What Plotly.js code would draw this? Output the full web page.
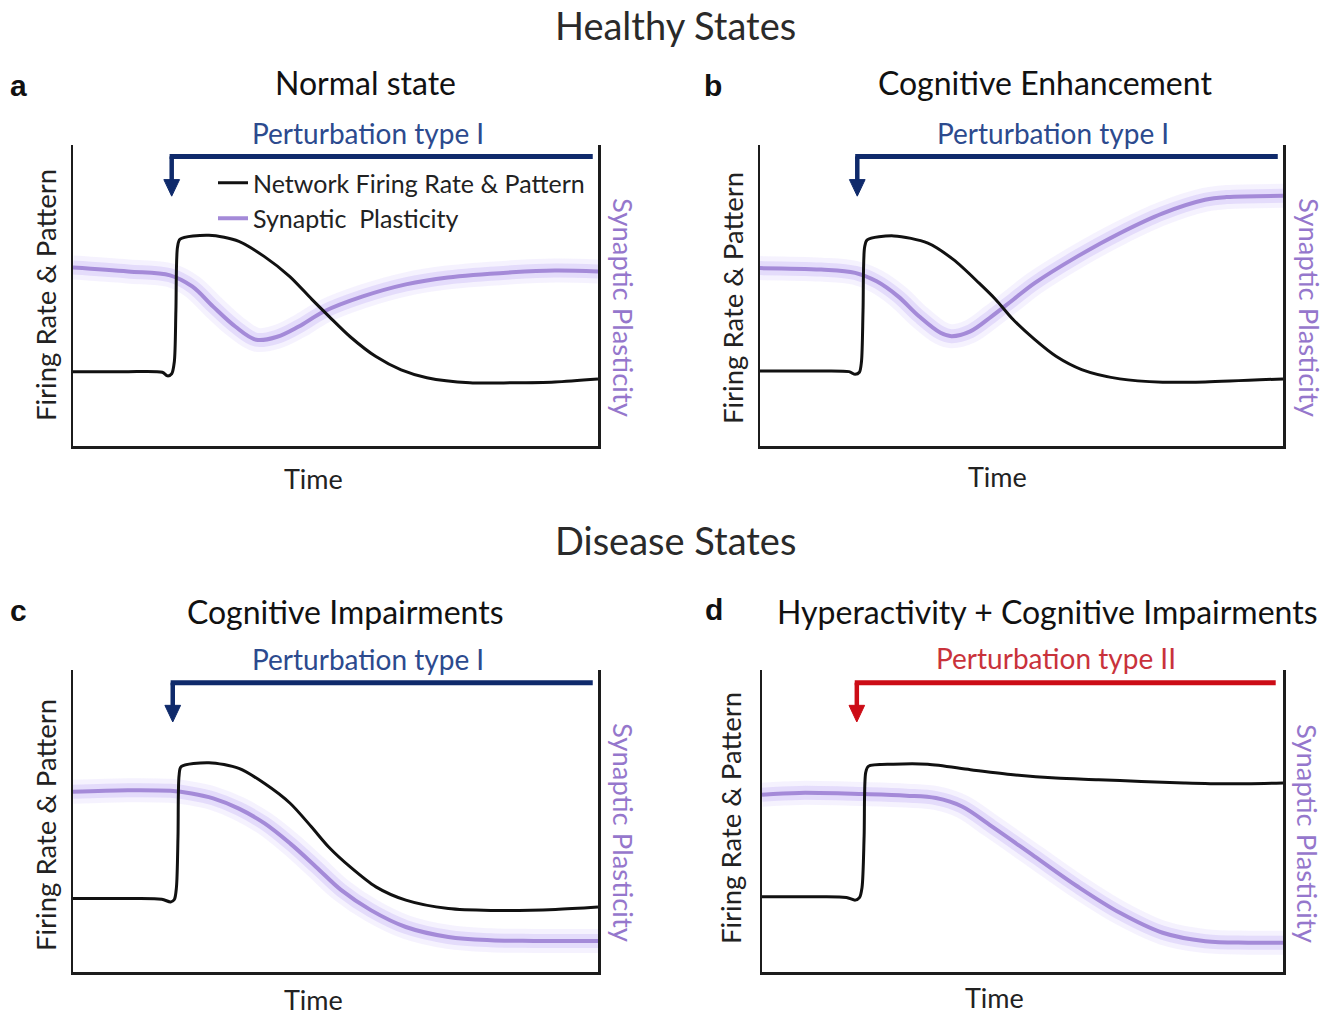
<!DOCTYPE html>
<html>
<head>
<meta charset="utf-8">
<script src="https://cdn.plot.ly/plotly-3.0.1.min.js"></script>
<style>
html,body{margin:0;padding:0;background:#fff;}
#chart{width:1342px;height:1017px;}
</style>
</head>
<body>
<div id="chart"></div>
<script>
// ---------- DATA (time in arbitrary units 0..10, level in arbitrary units 0..10) ----------
const panelTitles = ["Normal state", "Cognitive Enhancement", "Cognitive Impairments", "Hyperactivity + Cognitive Impairments"];
const panelLetters = ["a", "b", "c", "d"];
const perturbLabels = ["Perturbation type I", "Perturbation type I", "Perturbation type I", "Perturbation type II"];
const seriesNames = ["Network Firing Rate & Pattern", "Synaptic\u00a0 Plasticity"];

// a: Normal state
const nFirT = [0, 1.0, 1.70, 1.80, 1.88, 1.93, 1.96, 1.99, 2.04, 2.59, 3.16, 3.64, 4.13, 4.55, 4.88, 5.28, 5.77, 6.25, 6.74, 7.56, 8.36, 9.18, 10];
const nFirV = [2.47, 2.47, 2.45, 2.33, 2.40, 2.8, 4.5, 6.6, 6.87, 7.0, 6.8, 6.3, 5.63, 4.87, 4.3, 3.63, 2.97, 2.53, 2.27, 2.1, 2.1, 2.13, 2.23];
const nPlaT = [0, 1.05, 1.85, 2.27, 2.67, 3.09, 3.49, 3.89, 4.30, 4.78, 5.52, 6.34, 7.14, 8.36, 9.18, 10];
const nPlaV = [5.93, 5.8, 5.67, 5.3, 4.63, 3.97, 3.53, 3.63, 3.97, 4.47, 4.97, 5.37, 5.6, 5.77, 5.83, 5.8];

// b: Cognitive Enhancement
const eFirT = [0, 1.0, 1.70, 1.82, 1.90, 1.94, 1.97, 2.0, 2.05, 2.56, 3.21, 3.70, 4.19, 4.51, 4.84, 5.25, 5.66, 6.15, 6.88, 7.70, 8.51, 10];
const eFirV = [2.49, 2.49, 2.47, 2.38, 2.45, 2.8, 4.5, 6.6, 6.85, 6.98, 6.74, 6.19, 5.41, 4.86, 4.20, 3.54, 2.98, 2.54, 2.23, 2.12, 2.13, 2.23];
const ePlaT = [0, 1.17, 1.82, 2.23, 2.64, 3.04, 3.45, 3.66, 4.02, 4.43, 4.84, 5.25, 6.07, 6.88, 7.70, 8.51, 8.92, 10];
const ePlaV = [5.91, 5.86, 5.75, 5.47, 4.97, 4.31, 3.76, 3.65, 3.81, 4.31, 4.86, 5.41, 6.30, 7.07, 7.73, 8.18, 8.27, 8.31];

// c: Cognitive Impairments
const iFirT = [0, 1.0, 1.69, 1.86, 1.93, 1.97, 2.0, 2.02, 2.06, 2.59, 3.16, 3.65, 4.14, 4.54, 4.87, 5.28, 5.77, 6.34, 7.15, 7.96, 9.19, 10];
const iFirV = [2.43, 2.43, 2.41, 2.32, 2.4, 2.8, 4.5, 6.5, 6.80, 6.93, 6.74, 6.24, 5.58, 4.81, 4.14, 3.48, 2.82, 2.38, 2.10, 2.04, 2.07, 2.15];
const iPlaT = [0, 1.04, 1.86, 2.26, 2.67, 3.16, 3.65, 4.14, 4.63, 5.11, 5.68, 6.34, 7.15, 7.96, 8.78, 10];
const iPlaV = [5.97, 6.02, 6.0, 5.91, 5.75, 5.41, 4.92, 4.25, 3.48, 2.71, 2.04, 1.49, 1.16, 1.05, 1.03, 1.03];

// d: Hyperactivity + Cognitive Impairments
const hFirT = [0, 1.0, 1.62, 1.79, 1.87, 1.92, 1.96, 1.99, 2.04, 2.52, 3.18, 4.0, 4.82, 5.64, 6.46, 7.28, 8.10, 8.92, 10];
const hFirV = [2.49, 2.49, 2.47, 2.38, 2.46, 2.8, 4.5, 6.6, 6.81, 6.88, 6.88, 6.70, 6.53, 6.42, 6.37, 6.31, 6.26, 6.23, 6.26];
const hPlaT = [0, 0.72, 1.95, 2.77, 3.34, 3.84, 4.41, 5.23, 6.05, 6.87, 7.69, 8.51, 9.33, 10];
const hPlaV = [5.87, 5.93, 5.89, 5.84, 5.76, 5.48, 4.82, 3.83, 2.84, 1.96, 1.30, 1.02, 0.97, 0.97];

// perturbation: onset time, end time, bar level, arrow tip level
const perturbOnset = [1.88, 1.86, 1.90, 1.82];
const perturbEnd = [9.9, 9.9, 9.9, 9.86];
const perturbLevel = [9.62, 9.62, 9.58, 9.58];
const perturbTip = [8.3, 8.3, 8.28, 8.28];

// ---------- LAYOUT HELPERS ----------
const W = 1342, H = 1017;
const px = x => x / W;
const py = y => 1 - y / H;
const FONT = "Lato, 'Open Sans', sans-serif";
const TXT = "#222222";
const PURPLE = "#a48ad8";
const PURPLE_LABEL = "#9577cc";
const NAVY = "#0f2a6b", NAVY_LABEL = "#2c4a8e";
const RED = "#cc0c16", RED_LABEL = "#c9323b";

// plot-area boxes in pixels [left, right, top, bottom]
const boxes = [[73, 598, 145, 446], [760, 1283, 145, 446], [73, 598, 670, 972], [762, 1283, 670, 972]];

const firing = [[nFirT, nFirV], [eFirT, eFirV], [iFirT, iFirV], [hFirT, hFirV]];
const plast = [[nPlaT, nPlaV], [ePlaT, ePlaV], [iPlaT, iPlaV], [hPlaT, hPlaV]];

const traces = [];
const layout = {
  width: W, height: H,
  margin: {l: 0, r: 0, t: 0, b: 0},
  paper_bgcolor: "#ffffff", plot_bgcolor: "rgba(0,0,0,0)",
  font: {family: FONT, color: TXT},
  showlegend: true,
  legend: {x: px(213), y: py(160), xanchor: "left", yanchor: "top",
           font: {size: 25, family: FONT, color: TXT}, bgcolor: "rgba(0,0,0,0)",
           tracegroupgap: 0, traceorder: "grouped", itemwidth: 30},
  shapes: [], annotations: []
};

for (let i = 0; i < 4; i++) {
  const n = i === 0 ? "" : String(i + 1);
  const xa = "x" + n, ya = "y" + n;
  const b = boxes[i];
  const axStyle = {showline: true, linecolor: "#1c1c1c", linewidth: 2.5, showgrid: false,
                   zeroline: false, showticklabels: false, ticks: "", fixedrange: true};
  layout["xaxis" + n] = Object.assign({}, axStyle, {domain: [px(b[0]), px(b[1])], range: [0, 10], anchor: ya});
  layout["yaxis" + n] = Object.assign({}, axStyle, {domain: [py(b[3]), py(b[2])], range: [0, 10], anchor: xa, mirror: true});

  // glow of synaptic plasticity
  [[24, "rgba(175,150,245,0.12)"], [14, "rgba(170,140,240,0.22)"]].forEach(g => {
    traces.push({x: plast[i][0], y: plast[i][1], xaxis: xa, yaxis: ya, mode: "lines",
      line: {color: g[1], width: g[0], shape: "spline", smoothing: 1}, hoverinfo: "skip", showlegend: false});
  });
  traces.push({x: plast[i][0], y: plast[i][1], xaxis: xa, yaxis: ya, mode: "lines",
    name: seriesNames[1], legendgroup: "g2", legendrank: 2, showlegend: i === 0,
    line: {color: PURPLE, width: 4, shape: "spline", smoothing: 1}});
  traces.push({x: firing[i][0], y: firing[i][1], xaxis: xa, yaxis: ya, mode: "lines",
    name: seriesNames[0], legendgroup: "g1", legendrank: 1, showlegend: i === 0,
    line: {color: "#111111", width: 3, shape: "spline", smoothing: 0.8}});

  // perturbation arrow
  const col = i === 3 ? RED : NAVY;
  const t0 = perturbOnset[i], lv = perturbLevel[i], tip = perturbTip[i];
  const headH = 0.55, headW = 0.15;
  layout.shapes.push({type: "line", xref: xa, yref: ya, x0: t0 - 0.04, x1: perturbEnd[i], y0: lv, y1: lv,
    line: {color: col, width: 5}});
  layout.shapes.push({type: "line", xref: xa, yref: ya, x0: t0, x1: t0, y0: lv, y1: tip + headH - 0.05,
    line: {color: col, width: 4.5}});
  layout.shapes.push({type: "path", xref: xa, yref: ya,
    path: `M ${t0 - headW} ${tip + headH} L ${t0 + headW} ${tip + headH} L ${t0} ${tip} Z`,
    fillcolor: col, line: {color: col, width: 1}});
}

// ---------- TEXT ----------
function ann(text, x, y, size, opts) {
  layout.annotations.push(Object.assign({
    text: text, x: px(x), y: py(y), xref: "paper", yref: "paper", showarrow: false,
    xanchor: "center", yanchor: "middle", font: {size: size, family: FONT, color: TXT}
  }, opts || {}));
}
ann("Healthy States", 675, 25, 38, {font: {size: 38, family: FONT, color: "#2a2a2a"}});
ann("Disease States", 675, 540, 38, {font: {size: 38, family: FONT, color: "#2a2a2a"}});

const letterPos = [[18, 85], [713, 85], [18, 610], [714, 609]];
const titlePos = [[365, 83], [1045, 83], [345, 611], [1047, 611]];
const pertPos = [[368, 133], [1053, 133], [368, 659], [1056, 658]];
const yTitlePos = [[45, 295], [732, 298], [45, 825], [730, 818]];
const rTitlePos = [[624, 307], [1310, 307], [624, 832], [1308, 833]];
const timePos = [[313, 478], [997, 476], [313, 999], [994, 997]];

for (let i = 0; i < 4; i++) {
  ann("<b>" + panelLetters[i] + "</b>", letterPos[i][0], letterPos[i][1], 30,
      {font: {size: 30, family: "'Liberation Sans', Arial, sans-serif", color: "#111"}});
  ann(panelTitles[i], titlePos[i][0], titlePos[i][1], 32, {font: {size: 32, family: FONT, color: "#111"}});
  ann(perturbLabels[i], pertPos[i][0], pertPos[i][1], 28,
      {font: {size: 28, family: FONT, color: i === 3 ? RED_LABEL : NAVY_LABEL}});
  ann("Firing Rate & Pattern", yTitlePos[i][0], yTitlePos[i][1], 27.5,
      {textangle: -90, font: {size: 27.5, family: FONT, color: TXT}});
  ann("Synaptic Plasticity", rTitlePos[i][0], rTitlePos[i][1], 27.5,
      {textangle: 90, font: {size: 27.5, family: FONT, color: PURPLE_LABEL}});
  ann("Time", timePos[i][0], timePos[i][1], 27, {font: {size: 27, family: FONT, color: TXT}});
}

Plotly.newPlot("chart", traces, layout, {staticPlot: true, displayModeBar: false});
</script>
</body>
</html>
